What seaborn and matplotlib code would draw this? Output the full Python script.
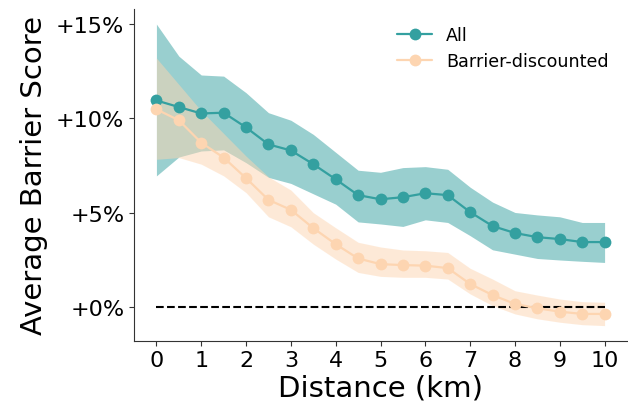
import numpy as np
import pandas as pd
import matplotlib
matplotlib.use("Agg")
import matplotlib.pyplot as plt
import seaborn as sns

distance = [0, 0.5, 1, 1.5, 2, 2.5, 3, 3.5, 4, 4.5, 5, 5.5, 6, 6.5, 7, 7.5, 8, 8.5, 9, 9.5, 10]

all_mean = [10.95, 10.6, 10.26, 10.3, 9.52, 8.62, 8.3, 7.57, 6.77, 5.93, 5.71,
            5.82, 6.03, 5.93, 5.03, 4.29, 3.92, 3.70, 3.60, 3.44, 3.44]
all_upper = [15.0, 13.3, 12.3, 12.24, 11.36, 10.3, 9.9, 9.15, 8.2, 7.25, 7.14,
             7.39, 7.44, 7.3, 6.35, 5.56, 5.01, 4.88, 4.78, 4.48, 4.48]
all_lower = [6.95, 7.95, 8.27, 8.33, 7.65, 6.87, 6.55, 6.0, 5.45, 4.51, 4.4,
             4.27, 4.62, 4.48, 3.78, 3.03, 2.8, 2.57, 2.49, 2.42, 2.36]

bd_mean = [10.48, 9.9, 8.71, 7.92, 6.83, 5.68, 5.15, 4.18, 3.33, 2.57, 2.27,
           2.22, 2.19, 2.06, 1.22, 0.63, 0.16, -0.07, -0.25, -0.37, -0.37]
bd_upper = [13.2, 11.8, 10.4, 9.2, 8.0, 6.9, 6.2, 5.0, 4.2, 3.43, 3.18,
            3.02, 2.98, 2.89, 2.05, 1.48, 0.86, 0.63, 0.42, 0.28, 0.25]
bd_lower = [7.83, 7.92, 7.57, 6.95, 6.06, 4.78, 4.25, 3.33, 2.54, 1.83, 1.62,
            1.57, 1.57, 1.48, 0.69, 0.07, -0.37, -0.63, -0.81, -0.94, -0.99]

series_names = ["All", "Barrier-discounted"]
colors = {"All": "#34a0a0", "Barrier-discounted": "#fdd5b1"}
yticks = [0, 5, 10, 15]
xticks = list(range(0, 11))

sns.set_style("ticks")
plt.rcParams['font.family'] = ['DejaVu Sans']
plt.rcParams['text.color'] = 'black'
plt.rcParams['axes.labelcolor'] = 'black'

df = pd.DataFrame({
    "Distance": distance * 2,
    "Score": all_mean + bd_mean,
    "Series": ["All"] * len(distance) + ["Barrier-discounted"] * len(distance),
})

fig = plt.figure(figsize=(6.28, 4.10), dpi=100)
ax = fig.add_axes([0.2134, 0.1666, 0.785, 0.809])

ax.fill_between(distance, all_lower, all_upper, color=colors["All"], alpha=0.5, linewidth=0)
ax.fill_between(distance, bd_lower, bd_upper, color=colors["Barrier-discounted"], alpha=0.5, linewidth=0)

sns.lineplot(data=df, x="Distance", y="Score", hue="Series", hue_order=series_names,
             palette=colors, marker="o", markersize=8.5, markeredgewidth=0,
             linewidth=1.6, errorbar=None, ax=ax)

ax.plot([0, 10], [0, 0], color="black", linestyle="--", linewidth=1.5, zorder=1.5)

ax.set_xticks(xticks)
ax.set_xticklabels([str(t) for t in xticks])
ax.set_yticks(yticks)
ax.set_yticklabels([f"+{t}%" for t in yticks])
ax.tick_params(axis="both", labelsize=16, colors="#333333", labelcolor="black")
ax.set_xlabel("Distance (km)", fontsize=21, color="black", labelpad=2)
ax.set_ylabel("Average Barrier Score", fontsize=21, color="black", labelpad=6)
sns.despine(ax=ax)
for s in ["left", "bottom"]:
    ax.spines[s].set_color("#333333")

leg = ax.legend(frameon=False, fontsize=12.6, loc="upper right", bbox_to_anchor=(0.995, 0.997))
for t in leg.get_texts():
    t.set_color("black")

fig.savefig("out.png", dpi=100)
